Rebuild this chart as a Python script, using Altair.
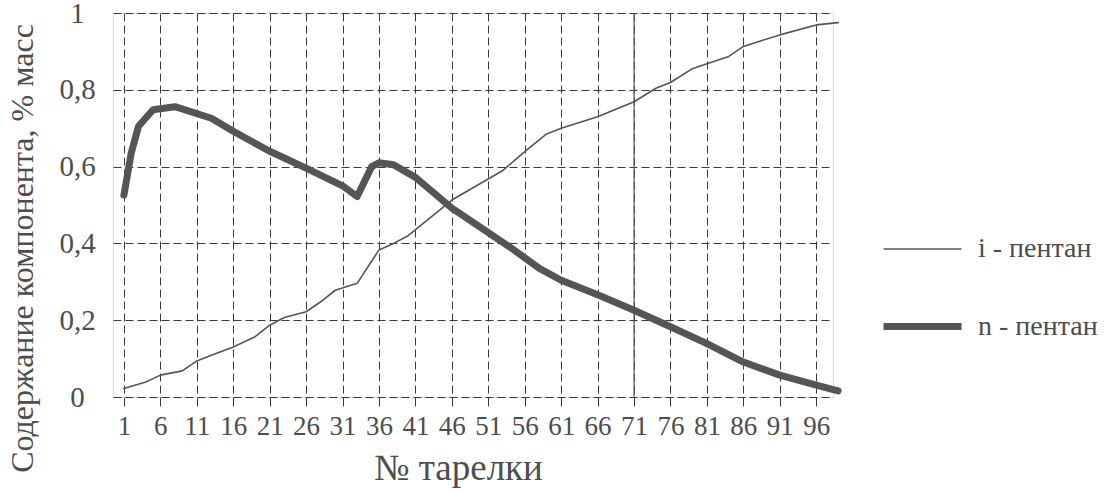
import altair as alt
import pandas as pd

# n-pentane (thick line)
n_tray = [1, 2, 3, 5, 8, 13, 16, 21, 26, 31, 33, 35, 36, 38, 41, 46, 51, 54, 58, 61, 66, 71, 76, 81, 86, 91, 96, 99]
n_val = [0.526, 0.635, 0.705, 0.748, 0.756, 0.726, 0.692, 0.640, 0.596, 0.550, 0.522, 0.600, 0.610, 0.605,
         0.572, 0.492, 0.428, 0.390, 0.335, 0.304, 0.266, 0.226, 0.183, 0.139, 0.091, 0.057, 0.031, 0.016]

# i-pentane (thin line)
i_tray = [1, 4, 6, 9, 11, 13, 16, 19, 21, 23, 26, 28, 30, 33, 36, 38, 40, 46, 53, 56, 59, 61, 66, 71, 74,
          76, 79, 81, 84, 86, 91, 96, 99]
i_val = [0.022, 0.039, 0.057, 0.068, 0.094, 0.109, 0.130, 0.157, 0.187, 0.207, 0.222, 0.248, 0.278, 0.296,
         0.383, 0.400, 0.420, 0.513, 0.590, 0.639, 0.685, 0.700, 0.730, 0.769, 0.804, 0.819, 0.855, 0.868,
         0.887, 0.913, 0.943, 0.969, 0.975]

series_names = ["i - пентан", "n - пентан"]
x_ticks = [1, 6, 11, 16, 21, 26, 31, 36, 41, 46, 51, 56, 61, 66, 71, 76, 81, 86, 91, 96]
y_ticks = [0, 0.2, 0.4, 0.6, 0.8, 1.0]
solid_line_at = [71]

df = pd.concat([
    pd.DataFrame({"tray": i_tray, "value": i_val, "series": series_names[0]}),
    pd.DataFrame({"tray": n_tray, "value": n_val, "series": series_names[1]}),
])

FONT = "Liberation Serif, Times New Roman, serif"
TXT = "#4d4d4d"
LINE = "#555555"

x_scale = alt.Scale(domain=[-0.5, 98.3], nice=False, zero=False)
y_scale = alt.Scale(domain=[0, 1], nice=False)

x_axis = alt.Axis(values=x_ticks, title="№ тарелки", grid=True, gridDash=[8, 4],
                  gridColor="#3a3a3a", gridWidth=1, gridOpacity=1,
                  domain=False, ticks=True, tickColor="#3a3a3a", tickSize=9, tickWidth=1,
                  labelFont=FONT, labelFontSize=27, labelColor=TXT, labelPadding=7,
                  labelFlush=False, labelOverlap=False,
                  titleFont=FONT, titleFontSize=37, titleFontWeight="normal", titleColor=TXT,
                  titleX=345, titleY=82, titleBaseline="alphabetic", titleAlign="center")

y_axis = alt.Axis(values=y_ticks, title="Содержание компонента, % масс", grid=True,
                  gridDash=[8, 4], gridColor="#3a3a3a", gridWidth=1, gridOpacity=1,
                  domain=False, ticks=False, labelAlign="center", labelBaseline="middle",
                  labelPadding=36, labelFont=FONT, labelFontSize=29, labelColor=TXT,
                  labelExpr="datum.value == 0 ? '0' : datum.value == 1 ? '1' : replace(format(datum.value, '.1f'), '.', ',')",
                  labelFlush=False, labelOverlap=False,
                  titleFont=FONT, titleFontSize=32, titleFontWeight="normal", titleColor=TXT,
                  titleAngle=270, titleX=-91, titleY=235, titleAlign="center",
                  titleBaseline="middle")

legend = alt.Legend(title=None, orient="none", legendX=767, legendY=196,
                    symbolType="stroke", symbolSize=6084,
                    symbolStrokeColor=LINE, labelFont=FONT, labelFontWeight="normal",
                    labelFontSize=28, labelColor=TXT, labelOffset=13,
                    rowPadding=21, padding=0, labelLimit=300)

lines = alt.Chart(df).mark_line(strokeCap="round", strokeJoin="round", color=LINE).encode(
    x=alt.X("tray:Q", scale=x_scale, axis=x_axis),
    y=alt.Y("value:Q", scale=y_scale, axis=y_axis),
    strokeWidth=alt.StrokeWidth("series:N", scale=alt.Scale(domain=series_names, range=[1.6, 7]),
                                legend=legend),
)

rule = alt.Chart(pd.DataFrame({"tray": solid_line_at})).mark_rule(color=LINE, strokeWidth=1.2).encode(
    x=alt.X("tray:Q", scale=x_scale, axis=x_axis)
)

chart = alt.layer(lines, rule).properties(
    width=720, height=384,
    autosize=alt.AutoSizeParams(type="none"),
    padding={"left": 113, "top": 13, "right": 287, "bottom": 93},
    background="white",
).configure_view(stroke=None).configure_legend(
    labelFont=FONT, labelFontSize=28, labelColor=TXT
).configure(font=FONT)

chart.save("out.html", embed_options={"renderer": "svg", "actions": False})
